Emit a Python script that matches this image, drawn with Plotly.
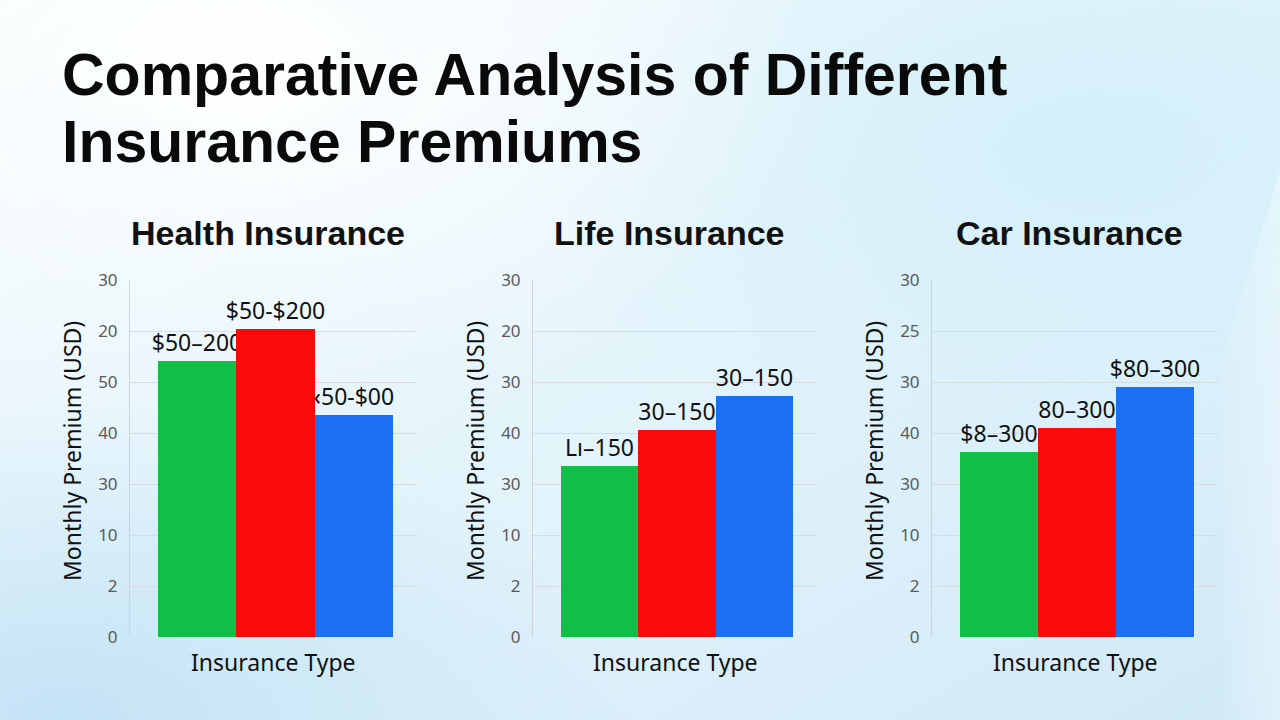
import base64
import plotly.graph_objects as go

# ---------------- data ----------------
panel_titles = ["Health Insurance", "Life Insurance", "Car Insurance"]
categories = [0, 1, 2]
health_values = [5.42, 6.03, 4.35]
life_values = [3.35, 4.05, 4.73]
car_values = [3.63, 4.10, 4.90]
health_labels = ["$50–200", "$50-$200", "‹50-$00"]
life_labels = ["Lı–150", "30–150", "30–150"]
car_labels = ["$8–300", "80–300", "$80–300"]
tick_positions = [0, 1, 2, 3, 4, 5, 6, 7]
health_ticks = ["0", "2", "10", "30", "40", "50", "20", "30"]
life_ticks = ["0", "2", "10", "30", "40", "30", "20", "30"]
car_ticks = ["0", "2", "10", "30", "40", "30", "25", "30"]
bar_colors = ["#0fbf47", "#fa0a0a", "#1b6ff0"]

panels = [
    (health_values, health_labels, health_ticks),
    (life_values, life_labels, life_ticks),
    (car_values, car_labels, car_ticks),
]

W, H = 1280, 720
x_domains = [[130 / W, 417 / W], [533 / W, 817 / W], [932 / W, 1218 / W]]
y_domain = [1 - 637 / H, 1 - 280 / H]

# ---------------- background (svg gradient) ----------------
svg = """<svg xmlns='http://www.w3.org/2000/svg' width='1280' height='720' viewBox='0 0 1280 720' preserveAspectRatio='none'>
<defs>
<linearGradient id='g' x1='0' y1='0' x2='1' y2='1'>
<stop offset='0' stop-color='#f7fcfe'/>
<stop offset='0.5' stop-color='#e4f4fb'/>
<stop offset='1' stop-color='#d0e9f7'/>
</linearGradient>
<radialGradient id='c' cx='0.85' cy='0.2' r='0.45'>
<stop offset='0' stop-color='#d2eff9' stop-opacity='0.9'/>
<stop offset='1' stop-color='#d2eff9' stop-opacity='0'/>
</radialGradient>
<radialGradient id='w' cx='0.2' cy='0.1' r='0.45'>
<stop offset='0' stop-color='#ffffff' stop-opacity='0.85'/>
<stop offset='1' stop-color='#ffffff' stop-opacity='0'/>
</radialGradient>
<radialGradient id='b' cx='0.05' cy='1.0' r='0.45'>
<stop offset='0' stop-color='#c2e2f5' stop-opacity='0.95'/>
<stop offset='1' stop-color='#c2e2f5' stop-opacity='0'/>
</radialGradient>
<linearGradient id='s' x1='0' y1='0' x2='1' y2='0'>
<stop offset='0' stop-color='#ffffff' stop-opacity='0.05'/>
<stop offset='1' stop-color='#ffffff' stop-opacity='0.35'/>
</linearGradient>
</defs>
<rect width='1280' height='720' fill='url(#g)'/>
<rect width='1280' height='720' fill='url(#c)'/>
<rect width='1280' height='720' fill='url(#w)'/>
<rect width='1280' height='720' fill='url(#b)'/>
<path d='M1280 170 L1222 360 L1225 720 L1280 720 Z' fill='url(#s)'/>
</svg>"""
bg_uri = "data:image/svg+xml;base64," + base64.b64encode(svg.encode()).decode()

fig = go.Figure()

text_font = dict(family="Noto Sans, DejaVu Sans, sans-serif", size=23, color="#111111")
tick_font = dict(family="Noto Sans, DejaVu Sans, sans-serif", size=17, color="#5a5a5a")
axis_title_font = dict(family="Noto Sans, DejaVu Sans, sans-serif", size=23, color="#111111")

annotations = []
for i, (vals, labels, ticks) in enumerate(panels):
    suffix = "" if i == 0 else str(i + 1)
    fig.add_trace(go.Bar(
        x=categories, y=vals, width=1,
        marker=dict(color=bar_colors, line=dict(width=0)),
        text=labels, textposition="outside", cliponaxis=False,
        constraintext="none",
        textfont=text_font,
        xaxis="x" + suffix, yaxis="y" + suffix,
        showlegend=False, hoverinfo="skip",
    ))
    fig.layout["xaxis" + suffix] = dict(
        domain=x_domains[i], range=[-0.86, 2.81], showticklabels=False,
        showgrid=False, zeroline=False, showline=False, anchor="y" + suffix,
        fixedrange=True, automargin=False,
    )
    fig.layout["yaxis" + suffix] = dict(
        domain=y_domain, range=[0, 7], tickvals=tick_positions, ticktext=ticks,
        tickfont=tick_font, showgrid=True, gridcolor="#d9dcdf", gridwidth=1,
        zeroline=False, showline=True, linecolor="#cfd3d6", linewidth=1,
        ticks="outside", ticklen=8, tickcolor="rgba(0,0,0,0)",
        anchor="x" + suffix, fixedrange=True, automargin=False,
    )
    xc = (x_domains[i][0] + x_domains[i][1]) / 2
    annotations.append(dict(
        text="<b>" + panel_titles[i] + "</b>", x=xc - 0.004, y=1 - 233 / H,
        xref="paper", yref="paper",
        showarrow=False, xanchor="center", yanchor="middle",
        font=dict(family="Liberation Sans, Arial, sans-serif", size=34, color="#111111"),
    ))
    annotations.append(dict(
        text="Insurance Type", x=xc, y=1 - 662 / H, xref="paper", yref="paper",
        showarrow=False, xanchor="center", yanchor="middle",
        font=axis_title_font,
    ))
    annotations.append(dict(
        text="Monthly Premium (USD)", x=x_domains[i][0] - 58 / W, y=1 - 451 / H,
        xref="paper", yref="paper", textangle=-90,
        showarrow=False, xanchor="center", yanchor="middle",
        font=axis_title_font,
    ))

title_font = dict(family="Liberation Sans, Arial, sans-serif", size=59, color="#0a0a0a")
annotations.append(dict(
    text="<b>Comparative Analysis of Different</b>",
    x=60 / W, y=1 - 75 / H, xref="paper", yref="paper",
    showarrow=False, xanchor="left", yanchor="middle", align="left",
    font=title_font,
))
annotations.append(dict(
    text="<b>Insurance Premiums</b>",
    x=60 / W, y=1 - 142 / H, xref="paper", yref="paper",
    showarrow=False, xanchor="left", yanchor="middle", align="left",
    font=title_font,
))

fig.update_layout(
    width=W, height=H,
    margin=dict(l=0, r=0, t=0, b=0, pad=0),
    paper_bgcolor="#e6f4fb",
    plot_bgcolor="rgba(255,255,255,0.25)",
    annotations=annotations,
    images=[dict(source=bg_uri, xref="paper", yref="paper", x=0, y=1,
                 sizex=1, sizey=1, sizing="stretch", layer="below",
                 xanchor="left", yanchor="top")],
    bargap=0,
)

fig.write_html("out.html", config={"displayModeBar": False})
